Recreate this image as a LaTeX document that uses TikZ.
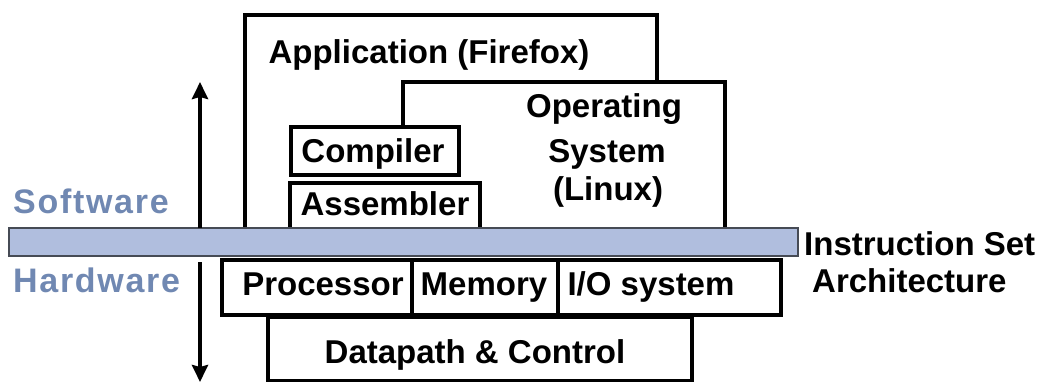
\documentclass[tikz,border=0pt]{standalone}
\usepackage{fontspec}
\setmainfont{Liberation Sans}
\usetikzlibrary{arrows.meta}
\definecolor{isafill}{RGB}{176,190,222}
\definecolor{isaedge}{RGB}{70,75,85}
\definecolor{layerblue}{RGB}{112,136,178}
\tikzset{
  x=1pt, y=-1pt,
  outline/.style={line width=3.2pt, line join=miter},
  label/.style={font=\fontsize{33}{41}\selectfont\bfseries, inner sep=0pt, align=center, anchor=base},
  sidelabel/.style={font=\fontsize{34}{38}\selectfont\bfseries\addfontfeatures{LetterSpace=5}, text=layerblue, inner sep=0pt, anchor=base west},
  levelarrow/.style={draw=black, line width=4pt, arrows={-Stealth[length=17pt, width=16pt, inset=2pt]}},
}
\begin{document}
\begin{tikzpicture}
\useasboundingbox (0,0) rectangle (1043,383);

% software layers
\draw[outline] (245,228) -- (245,15) -- (657,15) -- (657,82);
\draw[outline] (403,127) -- (403,82) -- (725,82) -- (725,228);
\draw[outline] (291,127) rectangle (459,175);
\draw[outline] (290,228) -- (290,183) -- (480,183) -- (480,228);

\node[label] (app) at (429,63) {Application (Firefox)};
\node[label] (os1) at (604,117) {Operating};
\node[label] (os2) at (607,162) {System};
\node[label] (os3) at (608,200) {(Linux)};
\node[label] (comp) at (373,162) {Compiler};
\node[label] (asm) at (385,215) {Assembler};

% instruction set boundary
\draw[fill=isafill, draw=isaedge, line width=1.4pt] (9,228) rectangle (798,256);
\draw[isaedge, line width=1.4pt] (9,256.5) -- (798,256.5);

% hardware layers
\draw[outline] (222,260) rectangle (412,315);
\draw[outline] (412,260) rectangle (558,315);
\draw[outline] (558,260) rectangle (781,315);
\draw[outline] (268,317) rectangle (692,380.5);

\node[label] (proc) at (323,295) {Processor};
\node[label] (mem) at (484,295) {Memory};
\node[label] (io) at (651,295) {I/O system};
\node[label] (dp) at (475,363) {Datapath \& Control};

% side labels
\node[sidelabel] (sw) at (13,213) {Software};
\node[sidelabel] (hw) at (13,292) {Hardware};
\node[label, anchor=base west] (isa1) at (804,255) {Instruction Set};
\node[label, anchor=base west] (isa2) at (812,292) {Architecture};

% direction arrows
\coordinate (upfoot) at (200,228);
\coordinate (uptip) at (200,82);
\coordinate (downfoot) at (200,262);
\coordinate (downtip) at (200,382);
\path[levelarrow] (upfoot) -- (uptip);
\path[levelarrow] (downfoot) -- (downtip);
\end{tikzpicture}
\end{document}
